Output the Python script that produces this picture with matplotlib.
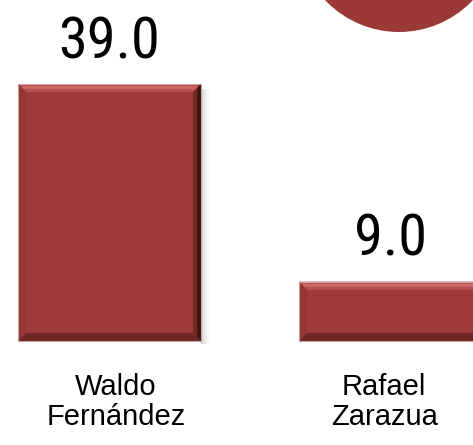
import matplotlib.pyplot as plt
from matplotlib.patches import Polygon, Rectangle, Ellipse

# data
names = ["Waldo\nFernández", "Rafael\nZarazua"]
votes = [39.0, 9.0]

W, H = 473, 445
XLIM = (-0.39, 1.294)
YLIM = (-15.8, 51.75)

fig = plt.figure(figsize=(W / 100, H / 100), dpi=100)
ax = fig.add_axes([0, 0, 1, 1])
ax.set_xlim(*XLIM)
ax.set_ylim(*YLIM)
ax.axis('off')

# pixel -> data conversion
px = (XLIM[1] - XLIM[0]) / W
py = (YLIM[1] - YLIM[0]) / H

face = '#9E3B39'
bars = ax.bar(range(len(votes)), votes, width=0.651, color=face, zorder=2)


def bevel(rect, b=8):
    L = rect.get_x()
    R = L + rect.get_width()
    B = rect.get_y()
    T = B + rect.get_height()
    bx, by = b * px, b * py
    # drop shadow on the right
    for k, a in enumerate([0.22, 0.15, 0.09, 0.04]):
        ax.add_patch(Rectangle((R + k * 2 * px, B - 3 * py), 2 * px, T - B - 2 * py,
                               color='#555555', alpha=a, lw=0, zorder=1))
    # top
    ax.add_patch(Polygon([(L, T), (R, T), (R - bx, T - by), (L + bx, T - by)],
                         color='#B9524E', lw=0, zorder=3))
    ax.add_patch(Polygon([(L + bx * 0.3, T - by * 0.3), (R - bx * 0.3, T - by * 0.3),
                          (R - bx * 0.6, T - by * 0.6), (L + bx * 0.6, T - by * 0.6)],
                         color='#D06A66', lw=0, zorder=3))
    # left
    ax.add_patch(Polygon([(L, T), (L + bx, T - by), (L + bx, B + by), (L, B)],
                         color='#933634', lw=0, zorder=3))
    # bottom
    ax.add_patch(Polygon([(L, B), (R, B), (R - bx, B + by), (L + bx, B + by)],
                         color='#702826', lw=0, zorder=3))
    # right
    ax.add_patch(Polygon([(R, T), (R, B), (R - bx, B + by), (R - bx, T - by)],
                         color='#722826', lw=0, zorder=3))
    ax.add_patch(Polygon([(R, T), (R, B), (R - bx * 0.45, B + by * 0.45), (R - bx * 0.45, T - by * 0.45)],
                         color='#3A1312', lw=0, zorder=3))
    # thin outline
    ax.add_patch(Rectangle((L, B), R - L, T - B, fill=False, ec='#C9A3A1', lw=0.8, zorder=4))


for r in bars:
    bevel(r)

for i, v in enumerate(votes):
    ax.annotate(f"{v:.1f}", (i, v), xytext=(0, 18.5), textcoords='offset points',
                ha='center', va='baseline', fontsize=42,
                family=['Roboto Condensed', 'Liberation Sans Narrow', 'Roboto', 'DejaVu Sans'],
                color='black')

label_shift = [4.5, -4.5]  # small nudges, points
for i, n in enumerate(names):
    ax.annotate(n, (i, 0.162), xycoords=ax.get_xaxis_transform(),
                xytext=(label_shift[i], 0), textcoords='offset points',
                ha='center', va='top', fontsize=21, linespacing=1.08,
                family=['Liberation Sans', 'DejaVu Sans'])

# decorative circle at top right
r = 101.6
ax.add_patch(Ellipse((399 / W, (H + 69.6) / H), 2 * r / W, 2 * r / H,
                     transform=ax.transAxes, color='#9B3937', lw=0, clip_on=False))

fig.savefig('out.png', dpi=100)
